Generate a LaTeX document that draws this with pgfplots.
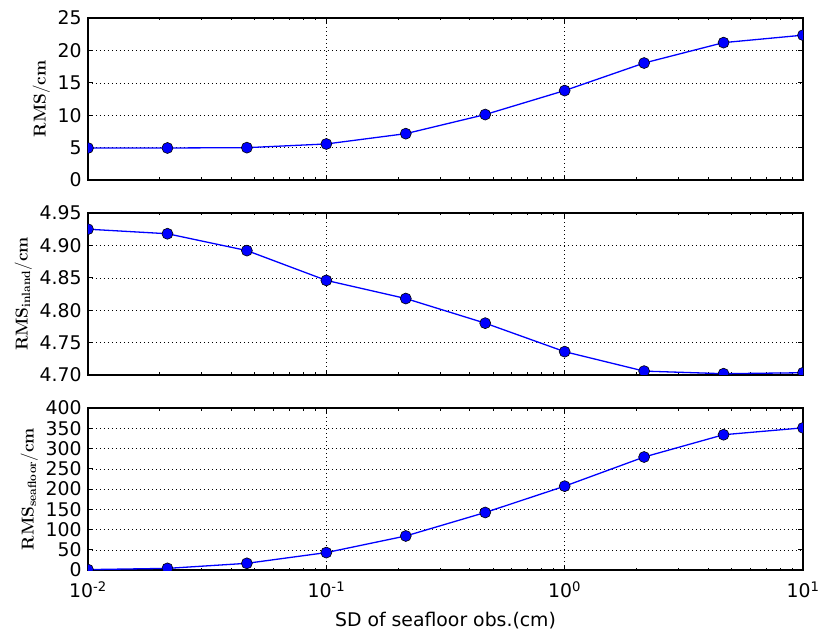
\documentclass[border=0pt]{standalone}
\usepackage[no-math]{fontspec}
\setmainfont{DejaVu Sans}
\usepackage{pgfplots}
\usepackage{pgfplotstable}
\pgfplotsset{compat=1.18}

% SD of seafloor observations (cm) and the resulting RMS values
\pgfplotstableread{
sd        rms     inland   seafloor
0.01      4.94    4.925    1
0.021544  4.94    4.918    4
0.046416  4.99    4.892    16.5
0.1       5.56    4.846    43
0.21544   7.15    4.818    84
0.46416   10.1    4.780    142
1         13.8    4.736    207
2.1544    18.05   4.706    279
4.6416    21.2    4.702    334
10        22.35   4.7035   351
}\rmsdata

\newcommand\ticksize{\fontsize{18.9}{22}\selectfont}
\newcommand\labsize{\fontsize{18.8}{22}\selectfont}

\pgfplotsset{
  every tick label/.append style={font=\ticksize},
  every axis label/.append style={font=\ticksize},
  every axis y label/.append style={font=\labsize},
  panel/.style={
    scale only axis, width=715bp, height=162bp,
    xmin=0.01, xmax=10,
    xtick={0.01,0.1,1,10},
    grid=major,
    major grid style={black, line width=0.5bp, dash pattern=on 1bp off 3bp},
    axis line style={line width=1.1bp},
    tick style={black, line width=0.8bp},
    major tick length=5bp, minor tick length=2.5bp,
    /pgf/number format/assume math mode=true,
    ylabel shift=-5bp,
    clip marker paths=true,
  },
  series/.style={blue, line width=1.3bp, mark=*, mark size=5.5bp,
    mark options={fill=blue, draw=black, line width=0.6bp}},
}

\begin{document}
\ticksize
\begin{tikzpicture}[font=\ticksize]
% bottom panel: seafloor RMS
\begin{semilogxaxis}[panel, name=bot, at={(0,0)}, anchor=south west,
  ymin=0, ymax=400, ytick={0,50,...,400},
  xticklabels={10\textsuperscript{-2},10\textsuperscript{-1},10\textsuperscript{0},10\textsuperscript{1}},
  xticklabel style={yshift=-5bp},
  xlabel={SD of seafloor obs.(cm)},
  xlabel style={yshift=-2bp},
  ylabel={$\mathbf{RMS}_{\mathbf{seafloor}}\mathbf{/cm}$}]
\addplot[series] table[x=sd, y=seafloor] {\rmsdata};
\end{semilogxaxis}
% middle panel: inland RMS
\begin{semilogxaxis}[panel, name=mid, at={(0,195bp)}, anchor=south west,
  ymin=4.70, ymax=4.95, ytick={4.70,4.75,4.80,4.85,4.90,4.95},
  yticklabel style={/pgf/number format/.cd, fixed, fixed zerofill, precision=2},
  xticklabels={},
  ylabel={$\mathbf{RMS}_{\mathbf{inland}}\mathbf{/cm}$}]
\addplot[series] table[x=sd, y=inland] {\rmsdata};
\end{semilogxaxis}
% top panel: overall RMS
\begin{semilogxaxis}[panel, name=top, at={(0,390bp)}, anchor=south west,
  ymin=0, ymax=25, ytick={0,5,...,25},
  xticklabels={},
  ylabel={$\mathbf{RMS/cm}$}]
\addplot[series] table[x=sd, y=rms] {\rmsdata};
\end{semilogxaxis}
\pgfresetboundingbox
\useasboundingbox (-88bp,-63bp) rectangle (734bp,570bp);
\end{tikzpicture}
\end{document}
